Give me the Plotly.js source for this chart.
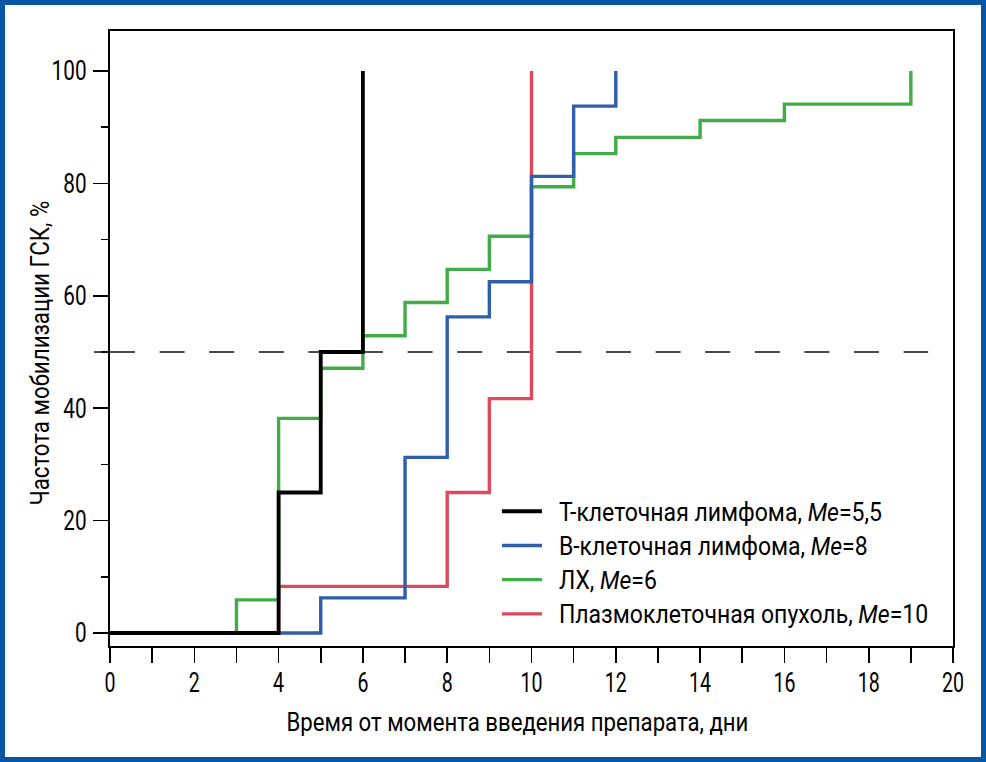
<!DOCTYPE html>
<html>
<head>
<meta charset="utf-8">
<script src="https://cdn.plot.ly/plotly-3.0.1.min.js"></script>
<style>
  html, body { margin: 0; padding: 0; background: #ffffff; }
  #wrap { position: relative; width: 986px; height: 762px; }
  #chart { position: absolute; left: 0; top: 0; width: 986px; height: 762px; }
  #frame { position: absolute; left: 0; top: 0; width: 986px; height: 762px; box-sizing: border-box;
           border: 5px solid #0756a5; pointer-events: none; }
</style>
</head>
<body>
<div id="wrap"><div id="chart"></div><div id="frame"></div></div>
<script>
// Days since drug administration, cumulative mobilization frequency (%)
const tDays   = [0, 4, 5, 6];
const tValues = [0, 25, 50, 100];

const bDays   = [0, 5, 7, 8, 9, 10, 11, 12];
const bValues = [0, 6.25, 31.25, 56.25, 62.5, 81.25, 93.75, 100];

const lhDays   = [0, 3, 4, 5, 6, 7, 8, 9, 10, 11, 12, 14, 16, 19];
const lhValues = [0, 5.9, 38.2, 47.1, 52.9, 58.8, 64.7, 70.6, 79.4, 85.3, 88.2, 91.2, 94.1, 100];

const plDays   = [0, 4, 8, 9, 10];
const plValues = [0, 8.3, 25, 41.7, 100];

const seriesNames = [
  'Т-клеточная лимфома, <i>Ме</i>=5,5',
  'В-клеточная лимфома, <i>Ме</i>=8',
  'ЛХ, <i>Ме</i>=6',
  'Плазмоклеточная опухоль, <i>Ме</i>=10'
];
const medianLevel = 50;
const xTickVals = [0, 2, 4, 6, 8, 10, 12, 14, 16, 18, 20];
const yTickVals = [0, 20, 40, 60, 80, 100];
const xTitle = 'Время от момента введения препарата, дни';
const yTitle = 'Частота мобилизации ГСК, %';

const FONT = 'Roboto, "Noto Sans", sans-serif';
const yRange = [-2.31, 107.12];
const xRange = [0, 20];

const traces = [
  { x: plDays, y: plValues, name: seriesNames[3], line: { color: '#dc4a5b', width: 3.4, shape: 'hv' } },
  { x: lhDays, y: lhValues, name: seriesNames[2], line: { color: '#42ac48', width: 3.4, shape: 'hv' } },
  { x: bDays,  y: bValues,  name: seriesNames[1], line: { color: '#2f5eab', width: 3.4, shape: 'hv' } },
  { x: tDays,  y: tValues,  name: seriesNames[0], line: { color: '#000000', width: 3.8, shape: 'hv' } }
].map(t => Object.assign({ type: 'scatter', mode: 'lines', hoverinfo: 'skip' }, t));

const plotW = 843, plotH = 615;
const yPaper = v => (v - yRange[0]) / (yRange[1] - yRange[0]);

const layout = {
  width: 986, height: 762,
  margin: { l: 110, r: 33, t: 31, b: 116 },
  paper_bgcolor: '#ffffff', plot_bgcolor: '#ffffff',
  font: { family: FONT, color: '#000000', size: 26 },
  showlegend: true,
  legend: {
    traceorder: 'reversed',
    x: 0.459, y: 0.255, xanchor: 'left', yanchor: 'top',
    font: { family: FONT, size: 24, color: '#000000' },
    bgcolor: 'rgba(0,0,0,0)', borderwidth: 0,
    itemwidth: 40, tracegroupgap: 0
  },
  xaxis: {
    range: xRange, showgrid: false, zeroline: false,
    showline: true, linecolor: '#000000', linewidth: 2, mirror: true,
    tickmode: 'array', tickvals: xTickVals, ticktext: xTickVals.map(String),
    ticks: 'outside', ticklen: 15, tickwidth: 1.6, tickcolor: '#000000',
    minor: { dtick: 1, ticks: 'outside', ticklen: 15, tickwidth: 1.6, tickcolor: '#000000', showgrid: false },
    tickfont: { family: FONT, size: 27, color: '#000000' },
    fixedrange: true
  },
  yaxis: {
    range: yRange, showgrid: false, zeroline: false,
    showline: true, linecolor: '#000000', linewidth: 2, mirror: true,
    tickmode: 'array', tickvals: yTickVals, ticktext: yTickVals.map(String),
    ticks: 'outside', ticklen: 15, tickwidth: 1.6, tickcolor: '#000000',
    minor: { tick0: 10, dtick: 20, ticks: 'outside', ticklen: 7, tickwidth: 1.6, tickcolor: '#000000', showgrid: false },
    tickfont: { family: FONT, size: 27, color: '#000000' },
    fixedrange: true
  },
  shapes: [
    { type: 'line', xref: 'x', yref: 'y', x0: 0, x1: 19.41, y0: medianLevel, y1: medianLevel,
      line: { color: '#111111', width: 1.5, dash: '25px,24.6px' }, layer: 'below' },
    { type: 'line', xref: 'paper', yref: 'paper', x0: -16 / plotW, x1: 0,
      y0: yPaper(medianLevel), y1: yPaper(medianLevel),
      line: { color: '#111111', width: 1.5 } }
  ],
  annotations: [
    { text: xTitle, xref: 'paper', yref: 'paper',
      x: (517 - 110) / plotW, y: (646 - 722) / plotH, xanchor: 'center', yanchor: 'middle',
      showarrow: false, font: { family: FONT, size: 25, color: '#000000' } },
    { text: yTitle, xref: 'paper', yref: 'paper',
      x: (40 - 110) / plotW, y: (646 - 353) / plotH, xanchor: 'center', yanchor: 'middle',
      textangle: -90, showarrow: false, font: { family: FONT, size: 25, color: '#000000' } }
  ]
};

// Narrow the lettering to imitate the condensed typeface of the original
function squeeze(el, sx, sy, dx, dy) {
  const x = parseFloat(el.getAttribute('x')) || 0;
  const y = parseFloat(el.getAttribute('y')) || 0;
  const prev = el.getAttribute('transform') || '';
  el.setAttribute('transform',
    prev + ' translate(' + (x + (dx || 0)) + ',' + (y + (dy || 0)) + ') scale(' + sx + ',' + sy + ') translate(' + (-x) + ',' + (-y) + ')');
}
function widthOf(el) { try { return el.getBBox().width; } catch (e) { return 0; } }

Plotly.newPlot('chart', traces, layout, { staticPlot: true, displayModeBar: false }).then(function (gd) {
  const root = document.getElementById('chart');
  // legend
  const leg = Array.from(root.querySelectorAll('.legend text.legendtext'));
  const legRef = leg.find(t => t.textContent.indexOf('Т-клеточная') === 0) || leg[0];
  if (legRef) { const s = 323 / widthOf(legRef); leg.forEach(t => squeeze(t, s, 1.1, 12, 0)); }
  // x tick labels
  const xt = Array.from(root.querySelectorAll('.xtick text'));
  const xRef = xt.find(t => t.textContent === '20');
  if (xRef) { const s = 22 / widthOf(xRef); xt.forEach(t => squeeze(t, s, 1.05, 0, -3)); }
  // y tick labels
  const yt = Array.from(root.querySelectorAll('.ytick text'));
  const yRef = yt.find(t => t.textContent === '100');
  if (yRef) { const s = 35 / widthOf(yRef); yt.forEach(t => squeeze(t, s, 1.05, -1, 0)); }
  // titles
  root.querySelectorAll('text.annotation-text').forEach(function (t) {
    const target = t.textContent === xTitle ? 462 : 305;
    squeeze(t, target / widthOf(t), 1.0, 0, 0);
  });
});
</script>
</body>
</html>
